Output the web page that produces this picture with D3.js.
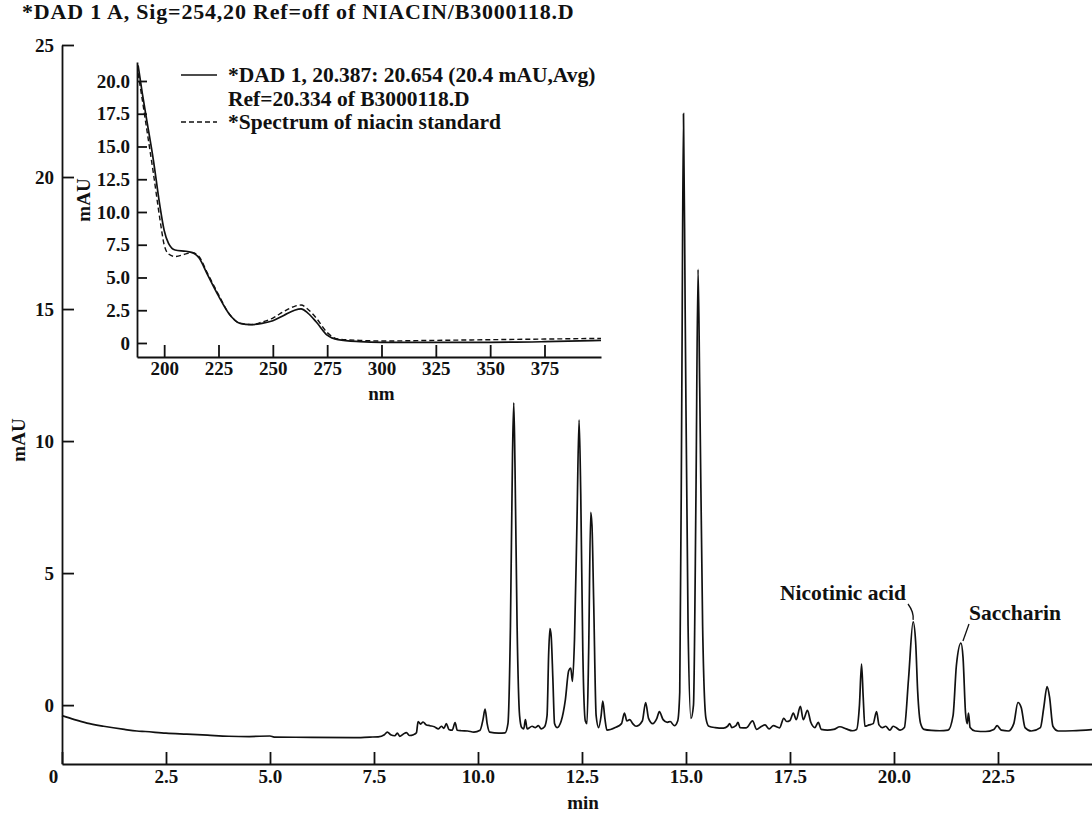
<!DOCTYPE html>
<html>
<head>
<meta charset="UTF-8">
<title>Niacin chromatogram</title>
<script src="https://d3js.org/d3.v7.min.js"></script>
<style>
  body { margin: 0; background: #fff; }
  svg { display: block; }
  text { font-family: "Liberation Serif", "Times New Roman", serif; font-weight: bold; fill: #111; }
  .axis path, .axis line { stroke: #111; stroke-width: 1.8; }
  .axis text { font-size: 19px; }
</style>
</head>
<body>
<svg width="1092" height="813"></svg>
<script>
// chromatogram trace (min, mAU)
const rtMin = [0, 0.3, 0.6, 1, 1.5, 1.8, 2, 2.5, 3, 3.5, 4, 4.5, 5, 5.1, 6, 7, 7.4, 7.6, 7.75, 7.82, 7.9, 8, 8.06, 8.12, 8.2, 8.28, 8.35, 8.45, 8.52,
  8.56, 8.62, 8.68, 8.75, 8.85, 8.95, 9.05, 9.12, 9.18, 9.24, 9.3, 9.38, 9.45, 9.5, 9.6, 9.75, 9.9, 10.05, 10.12, 10.17, 10.22, 10.28, 10.5, 10.65,
  10.72, 10.78, 10.83, 10.86, 10.89, 10.94, 11, 11.05, 11.1, 11.14, 11.18, 11.3, 11.38, 11.45, 11.52, 11.6, 11.66, 11.7, 11.73, 11.76, 11.8, 11.84,
  11.9, 12, 12.1, 12.18, 12.23, 12.27, 12.32, 12.38, 12.43, 12.47, 12.52, 12.58, 12.62, 12.66, 12.71, 12.74, 12.78, 12.84, 12.9, 12.96, 13, 13.05,
  13.1, 13.3, 13.45, 13.52, 13.58, 13.65, 13.72, 13.8, 13.95, 14.03, 14.1, 14.2, 14.3, 14.36, 14.45, 14.55, 14.62, 14.72, 14.8, 14.85, 14.9, 14.94,
  14.98, 15.05, 15.12, 15.18, 15.24, 15.29, 15.33, 15.4, 15.48, 15.55, 15.7, 15.9, 16, 16.05, 16.1, 16.2, 16.25, 16.3, 16.45, 16.6, 16.7, 16.8,
  16.9, 17, 17.1, 17.25, 17.35, 17.42, 17.5, 17.58, 17.65, 17.75, 17.82, 17.92, 18, 18.1, 18.18, 18.25, 18.4, 18.55, 18.7, 18.85, 19, 19.1, 19.17,
  19.22, 19.26, 19.3, 19.4, 19.5, 19.58, 19.64, 19.72, 19.8, 19.9, 19.98, 20.05, 20.15, 20.25, 20.35, 20.46, 20.52, 20.57, 20.64, 20.72, 20.9,
  21.1, 21.3, 21.42, 21.5, 21.61, 21.66, 21.72, 21.76, 21.79, 21.83, 21.95, 22.2, 22.4, 22.48, 22.58, 22.75, 22.88, 22.98, 23.06, 23.15, 23.3,
  23.52, 23.6, 23.68, 23.74, 23.82, 23.95, 24.3, 24.76];
const signalMau = [-0.4, -0.55, -0.68, -0.8, -0.92, -0.98, -1, -1.06, -1.1, -1.14, -1.18, -1.19, -1.17, -1.21, -1.22, -1.23, -1.21, -1.2, -1.12,
  -1.02, -1.12, -1.16, -1.06, -1.18, -1.1, -1.04, -1.15, -1.12, -1.05, -0.62, -0.72, -0.64, -0.74, -0.78, -0.82, -0.9, -0.8, -0.88, -0.7, -0.92,
  -0.95, -0.66, -0.95, -0.97, -0.98, -1.02, -0.95, -0.55, -0.15, -0.7, -1.02, -1.06, -1.05, -0.7, 3, 9.5, 11.45, 9, 3, -0.4, -0.85, -0.9, -0.55,
  -0.9, -0.8, -0.85, -0.78, -0.9, -0.82, -0.4, 2, 2.9, 2.6, 1, -0.7, -0.85, -0.6, 0.2, 1.3, 1.4, 0.9, 2.5, 7, 10.8, 8, 2, -0.6, -0.7, 2, 7.3,
  6.8, 4, -0.4, -0.85, -0.4, 0.15, -0.5, -0.95, -0.85, -0.7, -0.3, -0.6, -0.55, -0.7, -0.8, -0.6, 0.1, -0.5, -0.7, -0.5, -0.25, -0.55, -0.65,
  -0.62, -0.78, -0.6, 0.5, 12, 22.4, 15, 3, -0.5, 0, 8, 16.5, 12, 3, -0.5, -0.8, -0.85, -0.87, -0.8, -0.7, -0.85, -0.78, -0.65, -0.85, -0.86,
  -0.6, -0.92, -0.82, -0.75, -0.9, -0.78, -0.86, -0.5, -0.62, -0.58, -0.3, -0.55, -0.05, -0.55, -0.2, -0.65, -0.85, -0.65, -0.92, -0.95, -0.92,
  -0.82, -0.9, -0.97, -0.92, 0, 1.55, 0.3, -0.8, -0.75, -0.7, -0.25, -0.75, -0.85, -0.8, -0.95, -0.8, -0.85, -0.95, -0.85, 1, 3.15, 2.4, 0.5,
  -0.7, -0.92, -0.96, -0.97, -0.95, -0.4, 1.5, 2.35, 1.8, -0.3, -0.7, -0.3, -0.85, -0.98, -1, -0.92, -0.78, -0.95, -0.98, -0.7, 0.1, -0.1, -0.85,
  -0.98, -0.85, -0.1, 0.7, 0.3, -0.8, -0.98, -0.97, -0.93];

// inset UV spectra (nm, mAU)
const waveNm = [188, 190, 192, 195, 198, 200, 202, 205, 210, 213, 216, 220, 225, 230, 235, 240, 245, 250, 255, 260, 263, 266, 270, 275, 280,
  290, 300, 325, 350, 375, 401];
const sampleMau = [21.2, 19, 17, 14, 10.5, 8.6, 7.6, 7.1, 7, 6.9, 6.5, 5.2, 3.6, 2.2, 1.5, 1.4, 1.5, 1.7, 2.1, 2.5, 2.6, 2.3, 1.6, 0.6, 0.25,
  0.1, 0.05, 0.05, 0.05, 0.1, 0.2];
const standardMau = [20.6, 18.5, 16.3, 13, 9.5, 7.5, 6.8, 6.6, 6.8, 6.9, 6.6, 5.3, 3.7, 2.2, 1.5, 1.4, 1.6, 1.9, 2.4, 2.8, 2.9, 2.6, 1.9, 0.8,
  0.3, 0.2, 0.15, 0.2, 0.25, 0.3, 0.35];

const mainYTicks = [0, 5, 10, 15, 20, 25];
const mainXTicks = [0, 2.5, 5, 7.5, 10, 12.5, 15, 17.5, 20, 22.5];
const insetYTicks = [0, 2.5, 5, 7.5, 10, 12.5, 15, 17.5, 20];
const insetXTicks = [200, 225, 250, 275, 300, 325, 350, 375];
const legendLines = ["*DAD 1, 20.387: 20.654 (20.4 mAU,Avg)", "Ref=20.334 of B3000118.D", "*Spectrum of niacin standard"];

const svg = d3.select("svg");
const fmt = d => d === 0 ? "0" : d3.format(".1f")(d);

// main chromatogram
const x = d3.scaleLinear().domain([0, 24.76]).range([62, 1092]);
const y = d3.scaleLinear().domain([-2.23, 25]).range([764, 45]);

svg.append("g").attr("class", "axis")
  .attr("transform", "translate(0,764)")
  .call(d3.axisBottom(x).tickValues(mainXTicks).tickFormat(fmt).tickSizeInner(-12).tickSizeOuter(0).tickPadding(6))
  .call(g => g.selectAll(".tick text").filter(d => d === 0).attr("dx", -9));

svg.append("g").attr("class", "axis")
  .attr("transform", "translate(62,0)")
  .call(d3.axisLeft(y).tickValues(mainYTicks).tickFormat(d3.format("d")).tickSizeInner(-12).tickSizeOuter(0).tickPadding(8));

svg.append("path")
  .datum(rtMin.map((t, i) => [t, signalMau[i]]))
  .attr("fill", "none").attr("stroke", "#111").attr("stroke-width", 1.7)
  .attr("d", d3.line().x(d => x(d[0])).y(d => y(d[1])).curve(d3.curveMonotoneX));

svg.append("text").attr("x", 22).attr("y", 19).style("font-size", "22px").style("letter-spacing", "0.8px")
  .text("*DAD 1 A, Sig=254,20 Ref=off of NIACIN/B3000118.D");
svg.append("text").attr("transform", "translate(25,440) rotate(-90)").attr("text-anchor", "middle")
  .style("font-size", "19px").text("mAU");
svg.append("text").attr("x", 583).attr("y", 809).attr("text-anchor", "middle")
  .style("font-size", "19px").text("min");

// peak labels with leader lines
svg.append("text").attr("x", 906).attr("y", 600).attr("text-anchor", "end").style("font-size", "21.5px").text("Nicotinic acid");
svg.append("path").attr("fill", "none").attr("stroke", "#111").attr("stroke-width", 1.3)
  .attr("d", `M908,604 Q914,612 ${x(20.46)},${y(3.15) - 2}`);
svg.append("text").attr("x", 969).attr("y", 620).style("font-size", "21.5px").text("Saccharin");
svg.append("path").attr("fill", "none").attr("stroke", "#111").attr("stroke-width", 1.3)
  .attr("d", `M969,624 L${x(21.61) + 2},${y(2.35) - 2}`);

// inset spectrum
const ix = d3.scaleLinear().domain([187.5, 401]).range([137, 601]);
const iy = d3.scaleLinear().domain([-1.07, 21.45]).range([357, 62]);

svg.append("g").attr("class", "axis")
  .attr("transform", "translate(0,357)")
  .call(d3.axisBottom(ix).tickValues(insetXTicks).tickSizeInner(-12).tickSizeOuter(0).tickPadding(5));
svg.append("g").attr("class", "axis")
  .attr("transform", "translate(137,0)")
  .call(d3.axisLeft(iy).tickValues(insetYTicks).tickFormat(fmt).tickSizeInner(-10).tickSizeOuter(0).tickPadding(7));

const specLine = d3.line().x(d => ix(d[0])).y(d => iy(d[1])).curve(d3.curveMonotoneX);
svg.append("path").datum(waveNm.map((w, i) => [w, standardMau[i]]))
  .attr("fill", "none").attr("stroke", "#111").attr("stroke-width", 1.4).attr("stroke-dasharray", "5,3")
  .attr("d", specLine);
svg.append("path").datum(waveNm.map((w, i) => [w, sampleMau[i]]))
  .attr("fill", "none").attr("stroke", "#111").attr("stroke-width", 1.7)
  .attr("d", specLine);

svg.append("text").attr("transform", "translate(90,200) rotate(-90)").attr("text-anchor", "middle")
  .style("font-size", "19px").text("mAU");
svg.append("text").attr("x", ix(300)).attr("y", 400).attr("text-anchor", "middle")
  .style("font-size", "19px").text("nm");

// legend
const legend = svg.append("g").attr("transform", "translate(181,0)");
legendLines.forEach((s, i) => {
  legend.append("text").attr("x", 47).attr("y", 82 + i * 23.5).style("font-size", "21.5px").text(s);
});
legend.append("line").attr("x1", 0).attr("x2", 36).attr("y1", 75).attr("y2", 75)
  .attr("stroke", "#111").attr("stroke-width", 1.6);
legend.append("line").attr("x1", 0).attr("x2", 36).attr("y1", 122).attr("y2", 122)
  .attr("stroke", "#111").attr("stroke-width", 1.4).attr("stroke-dasharray", "5,3");
</script>
</body>
</html>
